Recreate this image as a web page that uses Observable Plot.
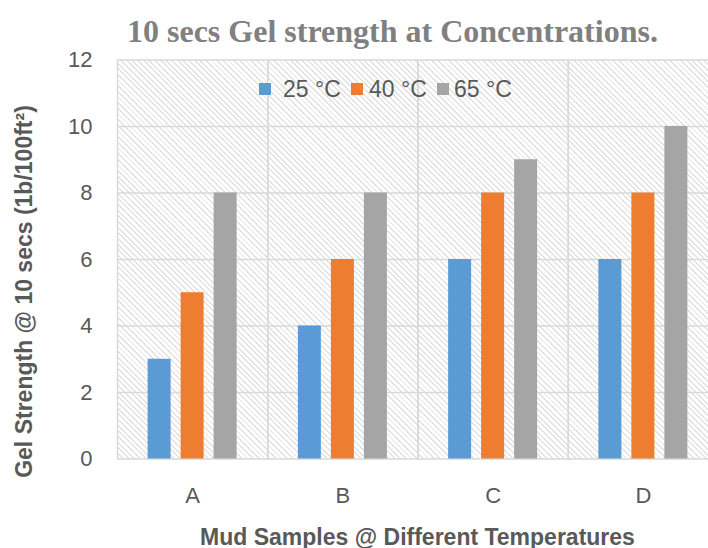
<!DOCTYPE html>
<html>
<head>
<meta charset="utf-8">
<script src="https://cdn.jsdelivr.net/npm/d3@7"></script>
<script src="https://cdn.jsdelivr.net/npm/@observablehq/plot@0.6"></script>
<style>
  html, body { margin: 0; padding: 0; background: #fff; overflow: hidden; }
  #wrap { position: relative; width: 708px; height: 548px; overflow: hidden; }
  #hatch { position: absolute; left: 117px; top: 59.5px; width: 601px; height: 399px;
    background: repeating-linear-gradient(45deg, #e3e3e3 0px, #e3e3e3 1.3px, #ffffff 1.3px, #ffffff 4px); }
  #chart { position: absolute; left: 0; top: 0; }
  .txt { position: absolute; white-space: nowrap; font-family: "Liberation Sans", Arial, sans-serif; color: #595959; }
  #title { left: 127px; top: 15px; font-family: "Liberation Serif", "Times New Roman", serif; font-weight: bold; font-size: 32px; line-height: 32px; color: #808080; }
  #xtitle { left: 117px; width: 601px; text-align: center; top: 525.5px; font-weight: bold; font-size: 23px; line-height: 23px; }
  #ytitle { left: -176px; width: 400px; text-align: center; top: 279.5px; font-weight: bold; font-size: 23px; line-height: 23px; transform: rotate(-90deg); }
  .sw { position: absolute; width: 12px; height: 12px; top: 83px; }
  .lg { top: 78.2px; font-size: 23px; line-height: 23px; }
</style>
</head>
<body>
<div id="wrap">
  <div id="hatch"></div>
  <div id="chart"></div>
  <div id="title" class="txt">10 secs Gel strength at Concentrations.</div>
  <div id="xtitle" class="txt">Mud Samples @ Different Temperatures</div>
  <div id="ytitle" class="txt">Gel Strength @ 10 secs (1b/100ft²)</div>
  <div id="legend"></div>
</div>
<script>
const categories = ["A", "B", "C", "D"];
const temperatures = ["25 °C", "40 °C", "65 °C"];
const colors = ["#5b9bd5", "#ed7d31", "#a5a5a5"];
const values25 = [3, 4, 6, 6];
const values40 = [5, 6, 8, 8];
const values65 = [8, 8, 9, 10];
const yTicks = [0, 2, 4, 6, 8, 10, 12];

const seriesValues = [values25, values40, values65];
const data = [];
categories.forEach((c, i) => {
  temperatures.forEach((t, j) => {
    data.push({category: c, temp: t, value: seriesValues[j][i]});
  });
});

const chart = Plot.plot({
  width: 708,
  height: 548,
  marginLeft: 117,
  marginRight: 0,
  marginTop: 59.5,
  marginBottom: 89.5,
  style: {background: "transparent", fontFamily: "Liberation Sans, Arial, sans-serif", color: "#595959", overflow: "hidden"},
  fx: {domain: categories, range: [117, 718], padding: 0, round: false, label: null},
  x: {domain: temperatures, paddingInner: 10 / 33, paddingOuter: 0.928, round: false, axis: null},
  y: {domain: [0, 12], label: null},
  color: {domain: temperatures, range: colors},
  marks: [
    Plot.ruleY([2, 4, 6, 8, 10], {stroke: "#d9d9d9", strokeWidth: 1.5}),
    Plot.frame({stroke: "#d9d9d9", strokeWidth: 1.5}),
    Plot.barY(data, {fx: "category", x: "temp", y: "value", fill: "temp"}),
    Plot.axisY({ticks: yTicks, tickSize: 0, tickPadding: 25, fontSize: 22, label: null}),
    Plot.axisFx({anchor: "bottom", tickSize: 0, tickPadding: 28, fontSize: 22, label: null})
  ]
});
document.getElementById("chart").appendChild(chart);

// legend (HTML, from the same arrays)
const legend = document.getElementById("legend");
const swX = [259, 351, 437];
const txX = [283, 369, 454];
temperatures.forEach((t, j) => {
  const sw = document.createElement("div");
  sw.className = "sw";
  sw.style.left = swX[j] + "px";
  sw.style.background = colors[j];
  legend.appendChild(sw);
  const lb = document.createElement("div");
  lb.className = "txt lg";
  lb.style.left = txX[j] + "px";
  lb.textContent = t;
  legend.appendChild(lb);
});
</script>
</body>
</html>
